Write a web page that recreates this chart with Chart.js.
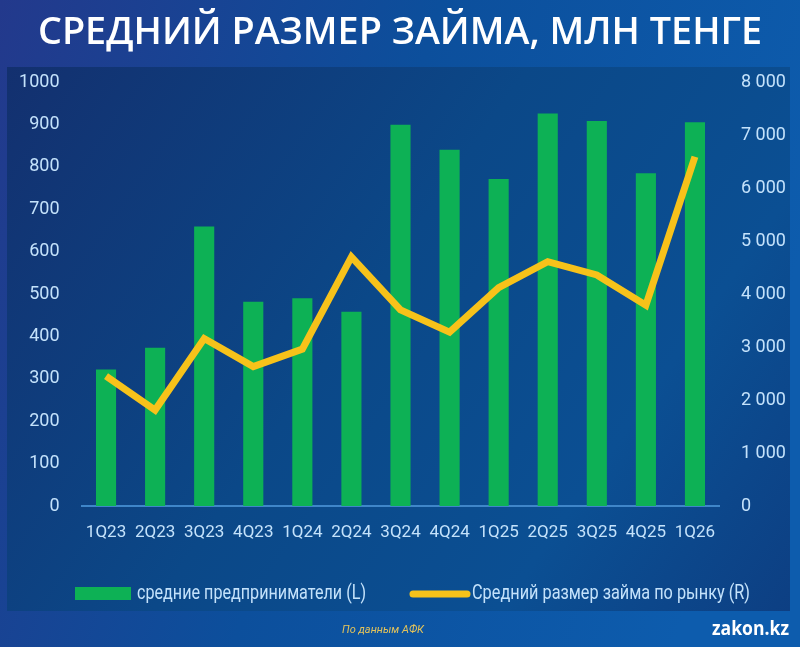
<!DOCTYPE html>
<html>
<head>
<meta charset="utf-8">
<script src="https://cdn.jsdelivr.net/npm/chart.js@4/dist/chart.umd.min.js"></script>
<style>
html,body{margin:0;padding:0;background:#0d4a95;overflow:hidden;}
canvas{display:block;}
</style>
</head>
<body>
<canvas id="c" width="800" height="647"></canvas>
<script>
const title = "СРЕДНИЙ РАЗМЕР ЗАЙМА, МЛН ТЕНГЕ";
const categories = ["1Q23","2Q23","3Q23","4Q23","1Q24","2Q24","3Q24","4Q24","1Q25","2Q25","3Q25","4Q25","1Q26"];
const midEntrepreneurs = [322,373,659,482,490,458,899,840,771,926,908,785,905];
const marketAvgLoan = [2450,1810,3160,2630,2960,4700,3700,3280,4120,4610,4360,3790,6590];
const leftTicks = ["0","100","200","300","400","500","600","700","800","900","1000"];
const rightTicks = ["0","1 000","2 000","3 000","4 000","5 000","6 000","7 000","8 000"];
const barLabel = "средние предприниматели (L)";
const lineLabel = "Средний размер займа по рынку (R)";
const source = "По данным АФК";
const brand = "zakon.kz";

const narrow = "Roboto, 'Noto Sans', sans-serif";
const tickColor = "#c4e2fb";

function fitText(ctx, text, x, y, width) {
  const w = ctx.measureText(text).width;
  ctx.save();
  ctx.translate(x, y);
  ctx.scale(width / w, 1);
  ctx.fillText(text, 0, 0);
  ctx.restore();
}

const bgPlugin = {
  id: 'bg',
  beforeDraw(chart) {
    const ctx = chart.ctx, W = chart.width, H = chart.height;
    ctx.save();
    let g = ctx.createLinearGradient(0, 0, W, H * 0.4);
    g.addColorStop(0, '#23398c');
    g.addColorStop(0.5, '#0c4f9c');
    g.addColorStop(1, '#0d5cad');
    ctx.fillStyle = g;
    ctx.fillRect(0, 0, W, H);
    let p = ctx.createLinearGradient(7, 67, 790, 611);
    p.addColorStop(0, '#13306f');
    p.addColorStop(0.45, '#0b4888');
    p.addColorStop(0.75, '#0b4f93');
    p.addColorStop(1, '#0d3f83');
    ctx.fillStyle = p;
    ctx.fillRect(7, 67, 783, 544);
    ctx.fillStyle = '#ffffff';
    ctx.font = "600 38px 'Open Sans', Inter, sans-serif";
    ctx.textAlign = 'left';
    ctx.textBaseline = 'middle';
    fitText(ctx, title, 38, 33, 724);
    ctx.restore();
  },
  afterDraw(chart) {
    const ctx = chart.ctx;
    const bar = chart.data.datasets.find(d => d.type === 'bar');
    const line = chart.data.datasets.find(d => d.type === 'line');
    ctx.save();
    ctx.textBaseline = 'middle';
    ctx.textAlign = 'left';
    ctx.fillStyle = bar.backgroundColor;
    ctx.fillRect(75, 587, 56, 13);
    ctx.font = "20px " + narrow;
    ctx.fillStyle = tickColor;
    fitText(ctx, bar.label, 137, 594, 229);
    ctx.strokeStyle = line.borderColor;
    ctx.lineWidth = 7;
    ctx.lineCap = 'round';
    ctx.beginPath();
    ctx.moveTo(413, 594);
    ctx.lineTo(467, 594);
    ctx.stroke();
    ctx.fillStyle = tickColor;
    fitText(ctx, line.label, 472, 594, 278);
    ctx.font = "italic 11px Roboto, sans-serif";
    ctx.fillStyle = '#e4c35a';
    ctx.textAlign = 'center';
    ctx.fillText(source, 383, 630);
    ctx.font = "700 20px 'Open Sans', Inter, sans-serif";
    ctx.fillStyle = '#ffffff';
    ctx.textAlign = 'left';
    fitText(ctx, brand, 712, 629, 77);
    ctx.restore();
  }
};

new Chart(document.getElementById('c'), {
  data: {
    labels: categories,
    datasets: [
      {
        type: 'line',
        label: lineLabel,
        data: marketAvgLoan,
        yAxisID: 'yR',
        borderColor: '#f7c21a',
        borderWidth: 7,
        pointRadius: 0,
        tension: 0,
        borderJoinStyle: 'miter',
        order: 0
      },
      {
        type: 'bar',
        label: barLabel,
        data: midEntrepreneurs,
        yAxisID: 'yL',
        backgroundColor: '#0db155',
        borderWidth: 0,
        categoryPercentage: 1,
        barPercentage: 0.41,
        order: 1
      }
    ]
  },
  options: {
    responsive: false,
    animation: false,
    devicePixelRatio: 1,
    layout: { padding: { top: 82, left: 0, right: 0, bottom: 0 } },
    plugins: { legend: { display: false }, tooltip: { enabled: false } },
    scales: {
      x: {
        grid: { display: false, drawTicks: false },
        border: { display: true, color: '#3f86c9', width: 2 },
        ticks: { color: tickColor, font: { family: narrow, size: 17 }, padding: 17, maxRotation: 0, autoSkip: false },
        afterFit(s) { s.height = 141; }
      },
      yL: {
        position: 'left',
        min: 0, max: 1000,
        grid: { display: false, drawTicks: false },
        border: { display: false },
        ticks: { stepSize: 100, color: tickColor, font: { family: narrow, size: 18 }, padding: 22,
          callback: (v, i) => leftTicks[i] },
        afterFit(s) { s.width = 81.5; }
      },
      yR: {
        position: 'right',
        min: 0, max: 8000,
        grid: { display: false, drawTicks: false },
        border: { display: false },
        ticks: { stepSize: 1000, color: tickColor, font: { family: narrow, size: 18 }, padding: 21.5,
          callback: (v, i) => rightTicks[i] },
        afterFit(s) { s.width = 80.5; }
      }
    }
  },
  plugins: [bgPlugin]
});
</script>
</body>
</html>
